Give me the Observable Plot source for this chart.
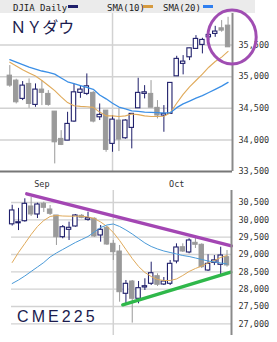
<!DOCTYPE html>
<html><head><meta charset="utf-8">
<script src="https://cdn.jsdelivr.net/npm/d3@7"></script>
<script src="https://cdn.jsdelivr.net/npm/@observablehq/plot@0.6"></script>
<style>
body{margin:0;background:#fff;}
#wrap{position:relative;width:277px;height:342px;overflow:hidden;background:#fff;}
#wrap > *{position:absolute;left:0;}
</style></head><body><div id="wrap"></div>
<script>
// ---- DJIA daily (trading-day index 0..34, Sep 9 .. Oct 27) ----
const djiaOpen  = [35017,34938,34649,34886,34554,34796,34728,34448,34016,33989,34290,34744,34728,34744,34358,34464,33937,34306,34026,34190,34500,34728,34728,34507,34385,34412,35006,35203,35307,35440,35503,35623,35677,35766,35808];
const djiaHigh  = [35176,34960,34923,34965,34886,34938,34780,34448,34147,34437,34886,34859,35044,34764,34569,34464,34385,34491,34320,34412,34975,34859,34938,34622,34543,34902,35323,35334,35449,35650,35608,35677,35797,35888,35940];
const djiaLow   = [34832,34569,34622,34500,34516,34543,34532,33620,33910,33989,34279,34658,34701,34269,34306,33804,33804,33815,34010,33858,34500,34649,34507,34332,34121,34412,35006,35029,35255,35440,35361,35571,35623,35703,35465];
const djiaClose = [34859,34595,34859,34569,34796,34744,34554,33962,33921,34253,34753,34796,34848,34290,34396,33842,34321,34005,34306,34412,34744,34753,34510,34385,34412,34902,35282,35239,35449,35598,35582,35661,35714,35729,35465];
const djiaSma10 = [35230,35170,35110,35060,35010,34940,34860,34780,34680,34590,34540,34530,34525,34515,34440,34380,34380,34370,34380,34410,34400,34380,34370,34370,34375,34430,34580,34720,34840,34940,35040,35150,35240,35310,35400];
const djiaSma20 = [35270,35230,35190,35150,35120,35090,35070,35040,34980,34920,34890,34860,34830,34800,34710,34650,34580,34520,34490,34460,34450,34440,34435,34430,34425,34430,34510,34570,34615,34660,34700,34750,34800,34850,34910];
const djiaTicks = [33500,34000,34500,35000,35500];

// ---- CME225 ----
const cmeOpen  = [29870,29900,29960,30385,30154,30462,30298,30125,29499,29712,29808,30116,30000,30030,29548,29770,29308,29086,27866,28221,27722,28048,28155,28374,28134,28155,28798,29210,29058,29337,29280,28538,28760,28703,28922];
const cmeHigh  = [30420,30330,30607,30644,30480,30509,30413,30125,29836,29932,30154,30154,30220,30058,29836,29808,29404,29260,28250,28250,28221,28299,28778,28443,28336,28827,29308,29308,29453,29461,29308,28991,28970,29210,29115];
const cmeLow   = [29820,29690,29932,30096,30038,30212,30125,29260,29453,29404,29787,30030,29960,29490,29355,29260,28827,27624,27560,27020,27577,27961,28105,28077,28105,28105,28731,29058,29020,29173,28596,28510,28680,28394,28634];
const cmeClose = [30270,29930,30462,30154,30442,30347,30174,29499,29787,29770,30125,30058,30047,29519,29712,29288,29066,27912,28154,27722,28028,28085,28460,28126,28221,28731,29202,29086,29404,29280,28634,28731,28830,28971,28683];
const cmeSma10 = [28769,29058,29317,29577,29808,29981,30096,30125,30110,30105,30105,30105,30082,30038,29937,29808,29635,29404,29144,28884,28654,28481,28365,28279,28250,28250,28293,28394,28510,28596,28668,28755,28827,28913,28971];
const cmeSma20 = [28163,28264,28380,28510,28639,28769,28928,29043,29144,29245,29346,29433,29519,29649,29779,29851,29880,29808,29707,29591,29461,29332,29231,29159,29101,29058,29014,28971,28942,28899,28856,28812,28784,28755,28726];
const cmeTicks = [27000,27500,28000,28500,29000,29500,30000,30500];

// month labels / boundary (trading-day index)
const monthTicks = [5, 26];
const monthLabels = ["Sep", "Oct"];
const monthStart = [16];

// analyst annotations (data coordinates)
const resistanceLine = [{i: 2.3, p: 30750}, {i: 34.7, p: 29250}];
const supportLine = [{i: 17.5, p: 27550}, {i: 34.6, p: 28490}];
const highlight = {i: 34.69, p: 35620, ri: 3.77, rp: 427};

const NAVY = "#1f1f6b", GRAY = "#9a9a9a", ORANGE = "#e0aa5a", BLUE = "#3b8fe6", BLUE2 = "#4a9ad8", GRID = "#d2d2d2";

function rows(O,H,L,C,S1,S2){
  return O.map((o,i)=>({i, o, h:H[i], l:L[i], c:C[i], s10:S1[i], s20:S2[i],
    lo: Math.min(o, C[i]), hi: Math.max(o, C[i]), up: C[i] >= o}));
}
const djia = rows(djiaOpen,djiaHigh,djiaLow,djiaClose,djiaSma10,djiaSma20);
const cme = rows(cmeOpen,cmeHigh,cmeLow,cmeClose,cmeSma10,cmeSma20);

function candles(data, hw){
  const up = data.filter(d=>d.up), dn = data.filter(d=>!d.up);
  return [
    Plot.ruleX(dn, {x:"i", y1:"l", y2:"h", stroke:GRAY, strokeWidth:1}),
    Plot.ruleX(up, {x:"i", y1:"l", y2:"h", stroke:NAVY, strokeWidth:1}),
    Plot.rect(dn, {x1:d=>d.i-hw, x2:d=>d.i+hw, y1:"lo", y2:"hi", fill:GRAY, stroke:GRAY, strokeWidth:1}),
    Plot.rect(up, {x1:d=>d.i-hw, x2:d=>d.i+hw, y1:"lo", y2:"hi", fill:"#fff", stroke:NAVY, strokeWidth:1.1})
  ];
}

const wrap = document.getElementById("wrap");
const fmt = d3.format(",");

// title bar
const ns = "http://www.w3.org/2000/svg";
const bar = d3.create("svg").attr("width",277).attr("height",14).style("top","0px");
bar.append("rect").attr("x",0).attr("y",0).attr("width",255).attr("height",13).attr("fill","#ebebeb");
const tb = [["DJIA Daily",13,68,NAVY],["SMA(10)",107,143,"#d69a3e"],["SMA(20)",163,203,"#2f7ff0"]];
for (const [t,x,bx,col] of tb){
  bar.append("text").attr("x",x).attr("y",11).attr("font-family","DejaVu Sans Mono").attr("font-size",9).attr("fill","#222").text(t);
  bar.append("rect").attr("x",bx).attr("y",5).attr("width",10).attr("height",3).attr("fill",col);
}
wrap.appendChild(bar.node());

// top chart
const topDom = [-1.45, 34.69], topY = [33500, 36000];
const topPlot = Plot.plot({
  width: 277, height: 190, marginTop: 13, marginBottom: 19, marginLeft: 0, marginRight: 45,
  style: {background:"transparent", fontFamily:"DejaVu Sans Mono", fontSize:"8.5px", color:"#333", overflow:"visible"},
  x: {domain: topDom, axis:"bottom", ticks: monthTicks, tickFormat: d => monthLabels[monthTicks.indexOf(d)], tickSize:0, tickPadding:9, label:null},
  y: {domain: topY, axis:"right", ticks: djiaTicks, tickFormat: fmt, tickSize:0, tickPadding:6, label:null},
  marks: [
    Plot.ruleY(djiaTicks.slice(1), {stroke:GRID, strokeWidth:1.5}),
    Plot.ruleX(monthStart, {stroke:GRID, strokeWidth:1.5}),
    ...candles(djia, 0.34),
    Plot.line(djia, {x:"i", y:"s10", stroke:ORANGE, strokeWidth:1.1}),
    Plot.line(djia, {x:"i", y:"s20", stroke:BLUE, strokeWidth:1.3}),
    Plot.ruleX([topDom[1]], {stroke:"#8a8a8a", strokeWidth:2}),
    Plot.ruleY([topY[0]], {stroke:"#777", strokeWidth:2})
  ]
});
topPlot.style.top = "0px";
wrap.appendChild(topPlot);

// bottom chart
const botDom = [-0.11, 34.71], botY = [26663, 30846];
const botPlot = Plot.plot({
  width: 277, height: 152, marginTop: 0, marginBottom: 7, marginLeft: 11, marginRight: 46,
  style: {background:"transparent", fontFamily:"DejaVu Sans Mono", fontSize:"8.5px", color:"#333", overflow:"visible"},
  x: {domain: botDom, axis: null},
  y: {domain: botY, axis:"right", ticks: cmeTicks, tickFormat: fmt, tickSize:0, tickPadding:7, label:null},
  marks: [
    Plot.ruleY(cmeTicks, {stroke:GRID, strokeWidth:1.3}),
    Plot.ruleX(monthStart, {stroke:GRID, strokeWidth:1.5}),
    ...candles(cme, 0.35),
    Plot.line(cme, {x:"i", y:"s10", stroke:ORANGE, strokeWidth:1}),
    Plot.line(cme, {x:"i", y:"s20", stroke:BLUE2, strokeWidth:1}),
    Plot.line(resistanceLine, {x:"i", y:"p", stroke:"#a346b3", strokeWidth:3.4}),
    Plot.line(supportLine, {x:"i", y:"p", stroke:"#2fb84a", strokeWidth:3.4}),
    Plot.ruleX([botDom[1]], {stroke:"#8a8a8a", strokeWidth:2})
  ]
});
botPlot.style.top = "190px";
wrap.appendChild(botPlot);

// overlay: titles and highlight ellipse (positioned through the same scales)
const xs = d3.scaleLinear(topDom, [0, 232]);
const ys = d3.scaleLinear(topY, [171, 13]);
const ov = d3.create("svg").attr("width",277).attr("height",342).style("top","0px").style("pointer-events","none");
ov.append("text").attr("x",10.3).attr("y",33.3).attr("font-family","Noto Sans CJK JP").attr("font-size",16).attr("fill","#1b1b4e").text("ＮＹダウ");
ov.append("text").attr("x",17).attr("y",322).attr("font-family","Liberation Sans").attr("font-size",16).attr("letter-spacing",3.1).attr("fill","#1b1b4e").text("CME225");
ov.append("ellipse")
  .attr("cx", xs(highlight.i)).attr("cy", ys(highlight.p))
  .attr("rx", xs(highlight.i + highlight.ri) - xs(highlight.i))
  .attr("ry", ys(highlight.p) - ys(highlight.p + highlight.rp))
  .attr("fill","none").attr("stroke","#a04db2").attr("stroke-width",3);
wrap.appendChild(ov.node());
</script></body></html>
